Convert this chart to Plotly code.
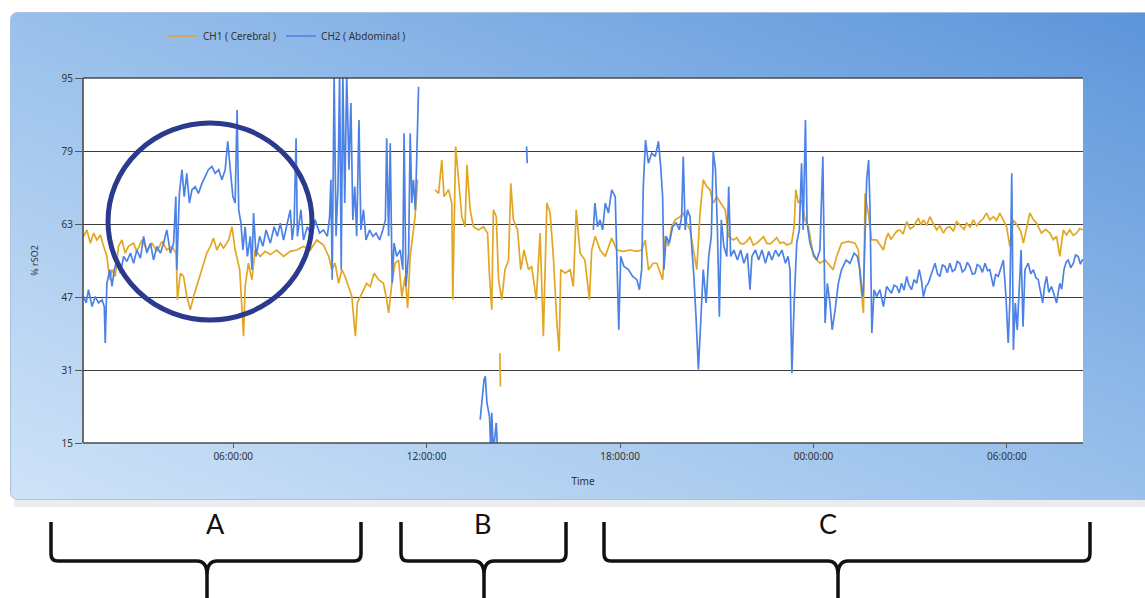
import base64
from datetime import datetime, timedelta
import plotly.graph_objects as go

# ---------------- data (hours since midnight of day 1, % rSO2) ----------------
ch1_hours = [1.36, 1.46, 1.57, 1.67, 1.77, 1.88, 1.98, 2.08, 2.17, 2.24, 2.34, 2.44, 2.55, 2.65, 2.75,
             2.91, 3.01, 3.17, 3.32, 3.48, 3.63, 3.79, 3.94, 4.10, 4.23, 4.27, 4.36, 4.46, 4.56, 4.67,
             4.77, 4.87, 4.98, 5.08, 5.18, 5.29, 5.39, 5.49, 5.60, 5.70, 5.86, 5.96, 6.06, 6.20, 6.27,
             6.32, 6.37, 6.47, 6.58, 6.68, 6.84, 6.99, 7.15, 7.35, 7.56, 7.77, 7.97, 8.18, 8.39, 8.59,
             8.80, 8.96, 9.06, 9.16, 9.27, 9.37, 9.47, 9.58, 9.68, 9.75, 9.79, 9.85, 9.94, 10.04, 10.14,
             10.25, 10.37, 10.51, 10.66, 10.76, 10.82, 10.92, 11.02, 11.13, 11.23, 11.33, 11.41, 11.49,
             11.57, 11.64, 11.72, None,
             12.26, 12.37, 12.47, 12.54, 12.68, 12.78, 12.81, 12.85, 12.90, 12.99, 13.09, 13.19, 13.25,
             13.35, 13.45, 13.61, 13.76, 13.89, 13.95, 14.02, 14.07, 14.16, 14.23, 14.33, 14.43, 14.54,
             14.61, 14.69, 14.82, 14.92, 15.02, 15.16, 15.26, 15.40, 15.52, 15.62, 15.73, 15.83, 15.93,
             16.04, 16.11, 16.16, 16.30, 16.45, 16.55, 16.64, 16.76, 16.91, 17.05, 17.12, 17.23, 17.38,
             17.54, 17.74, 17.90, 18.10, 18.31, 18.52, 18.67, 18.78, 18.88, 19.03, 19.14, 19.32, 19.40,
             19.50, 19.60, 19.71, 19.86, 19.96, 20.07, 20.17, 20.27, 20.38, 20.48, 20.58, 20.69, 20.79,
             20.89, 21.00, 21.12, 21.26, 21.36, 21.51, 21.62, 21.72, 21.83, 21.93, 22.03, 22.13, 22.24,
             22.34, 22.45, 22.55, 22.65, 22.75, 22.86, 22.96, 23.07, 23.17, 23.32, 23.40, 23.45, 23.53,
             23.63, 23.74, 23.84, 24.00, 24.20, 24.36, 24.51, 24.61, 24.72, 24.87, 25.08, 25.29, 25.39,
             25.46, 25.55, 25.60, 25.70, 25.80, 25.96, 26.06, 26.17, 26.25, 26.32, 26.40, 26.48, 26.58,
             26.68, 26.78, 26.89, 27.00, 27.10, 27.18, 27.25, 27.33, 27.41, 27.51, 27.61, 27.72, 27.82,
             27.92, 28.03, 28.13, 28.23, 28.34, 28.44, 28.59, 28.67, 28.75, 28.86, 28.96, 29.06, 29.16,
             29.27, 29.37, 29.47, 29.58, 29.68, 29.78, 29.89, 29.99, 30.09, 30.20, 30.35, 30.43, 30.51,
             30.61, 30.71, 30.82, 30.92, 31.07, 31.20, 31.33, 31.44, 31.54, 31.64, 31.75, 31.85, 31.95,
             32.06, 32.16, 32.26, 32.35, None,
             14.27, 14.29]
ch1_values = [60.3, 61.7, 58.8, 61.0, 59.5, 60.6, 58.1, 55.9, 50.8, 53.0, 51.5, 58.1, 59.5, 56.6, 58.1,
              58.8, 57.0, 59.5, 57.3, 58.8, 57.0, 59.2, 57.3, 58.1, 56.6, 46.4, 52.2, 51.5, 47.1, 44.2,
              47.1, 49.3, 52.2, 54.4, 56.6, 58.1, 59.9, 57.3, 58.8, 57.7, 59.5, 62.4, 57.3, 53.0, 44.2,
              38.4, 49.3, 54.4, 50.8, 57.3, 55.9, 57.0, 56.3, 57.3, 55.9, 57.0, 57.3, 58.1, 57.3, 59.5,
              58.4, 55.9, 53.0, 54.4, 50.0, 53.0, 51.5, 49.3, 47.1, 41.3, 38.4, 45.7, 47.1, 48.6, 50.0,
              49.3, 52.2, 50.8, 50.0, 46.4, 43.5, 50.0, 54.4, 55.1, 47.1, 51.5, 44.6, 55.9,
              60.3, 64.6, 72.7, None,
              70.5, 69.7, 77.0, 69.0, 70.5, 67.6, 46.4, 66.1, 80.0, 72.7, 64.6, 62.4, 76.0,
              66.1, 62.4, 61.7, 62.4, 61.0, 51.5, 44.2, 66.1, 64.6, 50.8, 46.4, 53.0, 55.1,
              71.9, 63.9, 61.7, 53.0, 57.3, 53.0, 53.7, 46.4, 61.0, 38.4, 67.6, 65.4, 55.9,
              41.3, 35.1, 53.0, 52.2, 53.0, 49.3, 66.1, 56.6, 55.1, 46.4, 57.3, 60.3, 57.3,
              55.9, 59.9, 57.3, 57.0, 57.3, 57.0, 57.3, 59.5, 53.0, 54.4, 54.4, 50.8, 60.3,
              58.1, 62.4, 63.9, 64.6, 65.4, 63.2, 61.7, 57.3, 53.0, 65.4, 72.7, 71.2, 70.5,
              67.6, 69.0, 67.6, 66.1, 60.3, 59.5, 60.0, 58.8, 58.6, 59.2, 60.1, 58.4, 58.8,
              59.5, 60.2, 58.8, 58.6, 59.2, 60.0, 58.8, 59.0, 58.4, 58.8, 62.4, 70.5, 67.6,
              68.3, 63.9, 62.4, 55.9, 54.4, 55.1, 53.7, 53.0, 55.9, 58.8, 59.2, 58.8, 57.3,
              50.0, 43.5, 69.7, 65.4, 59.5, 59.5, 58.4, 57.3, 59.8, 61.0, 59.6, 60.3, 61.4,
              61.7, 60.8, 63.5, 61.9, 62.4, 63.6, 64.3, 62.8, 63.9, 62.7, 64.6, 63.0, 61.7,
              62.6, 61.0, 62.2, 62.4, 61.4, 63.5, 62.4, 61.8, 63.2, 62.3, 63.9, 62.6, 63.5,
              64.2, 65.4, 63.9, 64.6, 63.8, 65.4, 63.9, 62.4, 58.1, 63.9, 62.4, 61.4, 58.8,
              62.2, 65.4, 64.0, 63.2, 61.0, 61.8, 61.0, 59.6, 60.3, 55.9, 61.7, 60.6, 61.7,
              60.5, 61.0, 62.0, 61.7, None,
              34.7, 27.4]

ch2_hours = [1.36, 1.44, 1.51, 1.62, 1.72, 1.82, 1.93, 2.00, 2.03, 2.08, 2.17, 2.24, 2.31, 2.39, 2.50,
             2.60, 2.70, 2.81, 2.91, 3.01, 3.12, 3.22, 3.32, 3.43, 3.53, 3.63, 3.74, 3.84, 3.94, 4.05,
             4.15, 4.22, 4.25, 4.33, 4.41, 4.48, 4.56, 4.64, 4.72, 4.82, 4.92, 5.03, 5.13, 5.23, 5.34,
             5.44, 5.55, 5.65, 5.75, 5.83, 5.91, 5.99, 6.06, 6.12, 6.17, 6.24, 6.30, 6.37, 6.44, 6.53,
             6.58, 6.63, 6.71, 6.82, 6.92, 7.02, 7.15, 7.27, 7.37, 7.46, 7.56, 7.66, 7.77, 7.83, 7.89,
             7.95, 7.99, 8.10, 8.18, 8.30, 8.44, 8.54, 8.68, 8.80, 8.92, 8.99, 9.03, 9.07, 9.13, 9.19,
             9.25, 9.30, 9.35, 9.40, 9.46, 9.52, 9.59, 9.65, 9.71, 9.77, 9.83, 9.90, 9.96, 10.04, 10.12,
             10.23, 10.33, 10.43, 10.54, 10.64, 10.72, 10.76, 10.82, 10.87, 10.93, 10.99, 11.07, 11.18,
             11.26, 11.30, 11.36, 11.44, 11.49, 11.54, 11.59, 11.65, 11.69, 11.75, None,
             13.66, 13.71, 13.78, 13.82, 13.87, 13.95, 13.99, 14.02, 14.07, 14.16, 14.20, None,
             15.10, 15.12, None,
             17.17, 17.22, 17.30, 17.38, 17.46, 17.54, 17.64, 17.74, 17.85, 17.90, 17.96, 18.02, 18.12,
             18.26, 18.39, 18.52, 18.60, 18.67, 18.72, 18.79, 18.88, 18.98, 19.09, 19.19, 19.26, 19.32,
             19.36, 19.43, 19.53, 19.63, 19.74, 19.84, 19.91, 19.96, 20.02, 20.09, 20.17, 20.23, 20.29,
             20.36, 20.43, 20.50, 20.58, 20.67, 20.75, 20.83, 20.89, 20.96, 21.02, 21.08, 21.14, 21.22,
             21.31, 21.37, 21.43, 21.53, 21.64, 21.74, 21.84, 21.95, 22.03, 22.09, 22.20, 22.30, 22.40,
             22.51, 22.61, 22.71, 22.82, 22.92, 23.02, 23.13, 23.21, 23.27, 23.33, 23.40, 23.48, 23.56,
             23.63, 23.68, 23.75, 23.80, 23.89, 23.99, 24.10, 24.20, 24.29, 24.36, 24.43, 24.51, 24.58,
             24.67, 24.77, 24.87, 25.01, 25.13, 25.26, 25.36, 25.44, 25.52, 25.55, 25.65, 25.71, 25.75,
             25.81, 25.88, 25.96, 26.06, 26.17, 26.27, 26.35, 26.42, 26.50, 26.58, 26.66, 26.73, 26.81,
             26.89, 26.96, 27.04, 27.12, 27.20, 27.28, 27.35, 27.41, 27.49, 27.56, 27.66, 27.77, 27.85,
             27.92, 28.00, 28.08, 28.15, 28.23, 28.31, 28.39, 28.46, 28.54, 28.62, 28.70, 28.77, 28.85,
             28.93, 29.01, 29.08, 29.16, 29.24, 29.32, 29.40, 29.47, 29.58, 29.65, 29.73, 29.81, 29.89,
             29.97, 30.04, 30.09, 30.15, 30.20, 30.26, 30.32, 30.38, 30.44, 30.50, 30.56, 30.66, 30.74,
             30.82, 30.90, 30.97, 31.04, 31.11, 31.17, 31.23, 31.30, 31.38, 31.46, 31.54, 31.64, 31.70,
             31.77, 31.84, 31.90, 31.98, 32.06, 32.13, 32.21, 32.28, 32.35]
ch2_values = [47.1, 45.7, 48.6, 44.9, 47.1, 45.7, 46.4, 44.9, 36.9, 50.0, 53.0, 49.3, 53.0, 55.1, 52.2,
              55.9, 54.8, 56.6, 54.4, 57.3, 55.5, 60.3, 56.6, 58.8, 55.1, 58.1, 56.6, 58.8, 61.7, 56.6,
              58.8, 69.0, 53.0, 69.7, 74.9, 69.0, 74.1, 67.6, 70.5, 71.2, 69.7, 71.9, 73.4, 74.9, 75.6,
              74.1, 74.9, 72.7, 74.9, 81.1, 74.9, 69.0, 67.6, 88.0, 66.1, 63.2, 57.3, 62.4, 55.9, 60.3,
              53.0, 65.4, 55.9, 60.3, 58.1, 61.7, 58.8, 62.4, 60.3, 63.2, 59.5, 62.4, 66.1, 59.5, 63.2,
              81.8, 60.3, 66.1, 59.5, 62.4, 60.3, 63.9, 61.0, 61.7, 60.3, 64.6, 72.7, 50.8, 96.0, 60.3,
              71.2, 96.0, 53.0, 96.0, 67.6, 96.0, 74.9, 89.5, 63.9, 71.2, 60.3, 85.8, 61.7, 66.1, 59.5,
              61.7, 60.3, 61.0, 59.5, 61.7, 63.9, 81.8, 60.3, 80.7, 50.0, 58.8, 55.9, 57.3,
              53.0, 82.9, 49.3, 56.6, 82.9, 67.6, 72.7, 66.1, 75.6, 93.1, None,
              20.1, 23.8, 28.9, 29.6, 23.8, 20.8, 13.0, 21.6, 13.0, 19.4, 13.0, None,
              80.0, 76.3, None,
              61.7, 67.6, 62.4, 63.9, 61.7, 67.6, 65.4, 70.5, 69.0, 55.9, 39.8, 55.9, 53.7,
              53.0, 51.5, 50.8, 48.6, 53.0, 71.2, 81.4, 76.3, 78.5, 77.8, 81.1, 75.6, 69.0,
              53.0, 60.3, 58.8, 62.4, 63.2, 61.7, 64.6, 77.8, 61.7, 66.1, 64.6, 57.3, 51.5,
              42.0, 31.1, 41.3, 53.0, 45.7, 55.9, 60.3, 78.9, 74.9, 61.7, 42.7, 63.9, 58.1,
              55.9, 71.2, 55.9, 57.3, 55.1, 57.3, 54.4, 56.6, 48.6, 55.9, 57.3, 55.1, 57.3,
              54.4, 57.0, 55.1, 57.3, 55.9, 57.3, 54.4, 55.9, 53.0, 30.3, 45.7, 58.8, 61.7,
              76.3, 61.7, 85.8, 63.2, 58.8, 56.6, 55.1, 57.3, 77.8, 41.3, 50.0, 45.7, 39.8,
              44.2, 50.0, 53.0, 55.1, 54.4, 56.6, 55.9, 53.0, 47.1, 48.6, 72.7, 77.0, 67.6,
              39.1, 48.6, 47.1, 48.6, 44.9, 49.3, 48.4, 47.8, 49.6, 49.3, 47.9, 50.0, 48.5,
              51.5, 49.6, 48.6, 50.8, 50.0, 53.0, 50.6, 47.1, 49.4, 50.0, 52.2, 54.4, 52.0,
              51.5, 54.0, 53.7, 52.3, 54.4, 52.6, 53.0, 54.8, 54.4, 52.5, 53.0, 54.6, 53.7,
              52.0, 52.2, 54.1, 53.7, 52.4, 54.4, 52.8, 53.0, 49.3, 52.0, 51.5, 53.6, 55.1,
              47.1, 36.9, 45.7, 74.1, 35.4, 45.7, 39.8, 50.0, 57.3, 40.5, 53.0, 54.4, 52.1,
              53.0, 51.2, 50.8, 48.3, 45.7, 49.5, 51.5, 48.0, 49.3, 47.6, 45.7, 50.0, 48.7,
              53.0, 54.7, 55.1, 53.4, 54.4, 56.2, 55.9, 54.2, 55.3]

y_ticks = [15, 31, 47, 63, 79, 95]
x_start_hour, x_end_hour = 1.34, 32.36
series_names = ["CH1 ( Cerebral )", "CH2 ( Abdominal )"]
series_colors = ["#e3a623", "#4c82e6"]
region_labels = ["A", "B", "C"]

# ---------------- helpers ----------------
BASE = datetime(2020, 1, 1)


def to_time(hours):
    return [None if h is None else BASE + timedelta(hours=h) for h in hours]


W, H = 1145, 598
PL, PR, PT, PB = 83, 1083, 78, 443


def px(x):
    return (x - PL) / (PR - PL)


def py(y):
    return (PB - y) / (PB - PT)


FONT = "Noto Sans"

fig = go.Figure()
for hrs, vals, name, col in [(ch1_hours, ch1_values, series_names[0], series_colors[0]),
                             (ch2_hours, ch2_values, series_names[1], series_colors[1])]:
    fig.add_trace(go.Scatter(x=to_time(hrs), y=vals, mode="lines", name=name,
                             line=dict(color=col, width=1.7), connectgaps=False))

# panel background (gradient) as an SVG image; white window for the plot area
PX0, PY0 = 10, 12
svg = ('<svg xmlns="http://www.w3.org/2000/svg" width="1135" height="488" viewBox="0 0 1135 488" '
       'preserveAspectRatio="none"><defs><linearGradient id="g" x1="0" y1="1" x2="1" y2="0">'
       '<stop offset="0" stop-color="#cfe3f8"/><stop offset="0.5" stop-color="#99c0eb"/>'
       '<stop offset="1" stop-color="#5c94da"/></linearGradient></defs>'
       '<rect x="0.5" y="0.5" width="1150" height="487" rx="7" ry="7" fill="url(#g)" '
       'stroke="#a9c3df" stroke-width="1"/>'
       f'<rect x="{PL - PX0}" y="{PT - PY0}" width="{PR - PL}" height="{PB - PT}" fill="#ffffff"/></svg>')
src = "data:image/svg+xml;base64," + base64.b64encode(svg.encode()).decode()
images = [dict(source=src, xref="paper", yref="paper", x=px(PX0), y=py(PY0),
               sizex=1135 / (PR - PL), sizey=488 / (PB - PT), xanchor="left", yanchor="top",
               sizing="stretch", layer="below")]

shapes = []
# panel shadow
shapes.append(dict(type="rect", xref="paper", yref="paper", x0=px(14), x1=px(1145), y0=py(507), y1=py(500),
                   fillcolor="rgba(90,110,140,0.13)", line=dict(width=0), layer="below"))
# plot borders (left, top, bottom)
border = dict(color="#4a4a4a", width=1.6)
shapes.append(dict(type="line", xref="paper", yref="paper", x0=0, x1=1, y0=1, y1=1, line=border))
shapes.append(dict(type="line", xref="paper", yref="paper", x0=0, x1=1, y0=0, y1=0, line=border))
shapes.append(dict(type="line", xref="paper", yref="paper", x0=0, x1=0, y0=0, y1=1, line=border))
# highlight circle
shapes.append(dict(type="circle", xref="paper", yref="paper", x0=px(108), x1=px(312), y0=py(320), y1=py(123),
                   line=dict(color="#2c3a8e", width=5)))


def bracket(L, R, C, T=522, Hh=561, B=602, r=7):
    p = (f"M {px(L)},{py(T)} L {px(L)},{py(Hh - r)} Q {px(L)},{py(Hh)} {px(L + r)},{py(Hh)} "
         f"L {px(C - 10)},{py(Hh)} Q {px(C)},{py(Hh)} {px(C)},{py(Hh + 14)} L {px(C)},{py(B)} "
         f"M {px(C)},{py(Hh + 14)} Q {px(C)},{py(Hh)} {px(C + 10)},{py(Hh)} "
         f"L {px(R - r)},{py(Hh)} Q {px(R)},{py(Hh)} {px(R)},{py(Hh - r)} L {px(R)},{py(T)}")
    return dict(type="path", xref="paper", yref="paper", path=p, line=dict(color="#111", width=3.5))


bracket_spans = [(51, 361, 207), (401, 566, 484), (604, 1090, 838)]
for L, R, C in bracket_spans:
    shapes.append(bracket(L, R, C))

annotations = []
for lab, xpos in zip(region_labels, [215, 482, 828]):
    annotations.append(dict(text=lab, xref="paper", yref="paper", x=px(xpos), y=py(523), showarrow=False,
                            font=dict(family="Lato", size=27, color="#111"), xanchor="center", yanchor="middle"))

fig.update_layout(
    width=W, height=H,
    margin=dict(l=PL, r=W - PR, t=PT, b=H - PB, pad=0),
    paper_bgcolor="white", plot_bgcolor="white",
    font=dict(family=FONT, size=10, color="#333"),
    images=images, shapes=shapes, annotations=annotations,
    showlegend=True,
    legend=dict(orientation="h", x=px(163), y=py(36), xanchor="left", yanchor="middle",
                bgcolor="rgba(0,0,0,0)", font=dict(family=FONT, size=10, color="#333"),
                itemwidth=30, tracegroupgap=0),
    xaxis=dict(type="date", range=[BASE + timedelta(hours=x_start_hour), BASE + timedelta(hours=x_end_hour)],
               tick0=BASE, dtick=6 * 3600 * 1000, tickformat="%H:%M:%S", showgrid=False, zeroline=False,
               ticks="outside", ticklen=4, tickcolor="#555", tickfont=dict(size=10, color="#333"),
               title=dict(text="Time", font=dict(size=10, color="#333"), standoff=15),
               showline=False),
    yaxis=dict(range=[15, 95], tickvals=y_ticks, showgrid=True, gridcolor="#3c3c3c", gridwidth=1.4,
               zeroline=False, ticks="outside", ticklen=7, tickcolor="#555",
               tickfont=dict(size=10, color="#333"),
               title=dict(text="% rSO2", font=dict(size=9, color="#333"), standoff=21),
               showline=False),
)

fig.write_html("out.html", config={"displayModeBar": False},
               post_script="document.body.style.margin='0';document.body.style.overflow='hidden';")
